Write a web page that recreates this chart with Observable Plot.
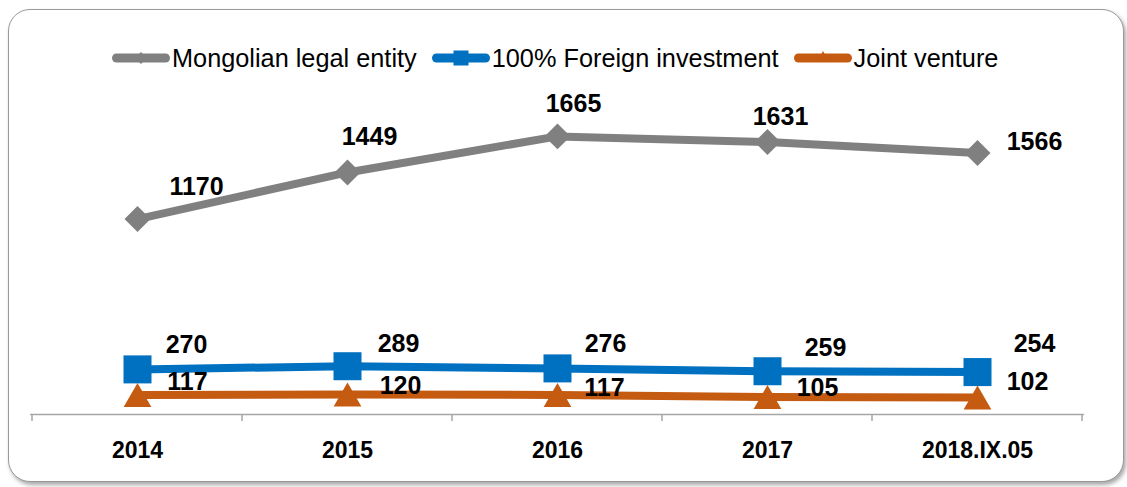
<!DOCTYPE html>
<html><head><meta charset="utf-8">
<script src="https://cdn.jsdelivr.net/npm/d3@7"></script>
<script src="https://cdn.jsdelivr.net/npm/@observablehq/plot@0.6"></script>
<style>
body{margin:0;background:#fff;font-family:Arial,"Liberation Sans",sans-serif;}
#wrap{position:relative;width:1127px;height:487px;overflow:hidden;background:#fff;}
#frame{position:absolute;left:8px;top:9px;width:1114px;height:471px;border:1.5px solid #9a9a9a;border-radius:22px;box-shadow:2px 3px 4px rgba(0,0,0,0.35);background:#fff;}
#legend{position:absolute;left:112px;top:42px;height:32px;display:flex;align-items:center;font-size:25.3px;color:#000;white-space:nowrap;}
.item{display:flex;align-items:center;margin-right:15px;}
.item svg{display:block;margin-right:2px;}
#chart{position:absolute;left:0;top:80px;}
</style></head>
<body>
<div id="wrap">
  <div id="frame"></div>
  <div id="legend"></div>
  <div id="chart"></div>
</div>
<script>
// ---- data ----
const categories = ["2014", "2015", "2016", "2017", "2018.IX.05"];
const mongolianLegalEntity = [1170, 1449, 1665, 1631, 1566];
const foreignInvestment = [270, 289, 276, 259, 254];
const jointVenture = [117, 120, 117, 105, 102];
const seriesNames = ["Mongolian legal entity", "100% Foreign investment", "Joint venture"];

// ---- styling (label nudges in pixels, colours, symbols) ----
const seriesColors = ["#808080", "#0070C0", "#C55A11"];
const seriesSymbols = ["diamond2", "square", "triangle"];
const seriesDotR = [11.7, 15.8, 10.3];
const seriesDotDy = [0, 0, 4];
const labelDx = [[59, 22, 16, 13, 57], [49, 51, 48, 58, 57], [50, 53, 47, 50, 50]];
const labelDy = [[-32, -35, -32, -25, -11], [-24, -22, -24, -23, -28], [-13, -8, -7, -9, -15]];

const seriesValues = [mongolianLegalEntity, foreignInvestment, jointVenture];
const rows = seriesValues.map((vals, s) => categories.map((c, i) => ({category: c, value: vals[i], series: seriesNames[s], i})));

// ---- legend ----
const legend = document.getElementById("legend");
seriesNames.forEach((name, s) => {
  const item = document.createElement("div");
  item.className = "item";
  let marker = "";
  const col = seriesColors[s];
  if (s === 0) marker = `<path d="M29,4 L35,10 L29,16 L23,10Z" fill="${col}"/>`;
  if (s === 1) marker = `<rect x="21.5" y="2.5" width="15" height="15" fill="${col}"/>`;
  if (s === 2) marker = `<path d="M29,3 L35,14 L23,14Z" fill="${col}"/>`;
  item.innerHTML = `<svg width="58" height="20"><line x1="4.5" x2="53.5" y1="10" y2="10" stroke="${col}" stroke-width="9" stroke-linecap="round"/>${marker}</svg><span>${name}</span>`;
  legend.appendChild(item);
});

// ---- chart ----
const marks = [
  Plot.ruleY([0], {stroke: "#a6a6a6", strokeWidth: 1.5}),
  Plot.axisX({tickSize: 0, tickPadding: 27, fontSize: 23, fontWeight: "bold", fill: "#000"})
];
rows.forEach((data, s) => {
  marks.push(Plot.line(data, {x: "category", y: "value", stroke: seriesColors[s], strokeWidth: 8}));
});
rows.forEach((data, s) => {
  marks.push(Plot.dot(data, {x: "category", y: "value", symbol: seriesSymbols[s], r: seriesDotR[s], fill: seriesColors[s], stroke: "none", dy: seriesDotDy[s]}));
});
rows.forEach((data, s) => {
  data.forEach((d, i) => {
    marks.push(Plot.text([d], {x: "category", y: "value", text: d => String(d.value), dx: labelDx[s][i], dy: labelDy[s][i],
      fontSize: 25, fontWeight: "bold", fill: "#000", lineAnchor: "middle", textAnchor: "middle"}));
  });
});

const plot = Plot.plot({
  width: 1127,
  height: 407,
  marginLeft: 30,
  marginRight: 43,
  marginTop: 35,
  marginBottom: 73,
  style: {fontFamily: "Arial, 'Liberation Sans', sans-serif", color: "#000", background: "transparent", overflow: "visible"},
  x: {type: "band", domain: categories, padding: 0, label: null},
  y: {domain: [0, 1790], axis: null},
  marks
});
document.getElementById("chart").appendChild(plot);

// category boundary tick marks (Excel style), placed with Plot's own scales
const xs = plot.scale("x");
const y0 = plot.scale("y").apply(0);
const bounds = categories.map(c => xs.apply(c));
bounds.push(xs.apply(categories[categories.length - 1]) + xs.bandwidth);
d3.select(plot).append("g").selectAll("line").data(bounds).join("line")
  .attr("x1", d => d).attr("x2", d => d)
  .attr("y1", y0).attr("y2", y0 + 7)
  .attr("stroke", "#a6a6a6").attr("stroke-width", 1.5);
</script>
</body></html>
